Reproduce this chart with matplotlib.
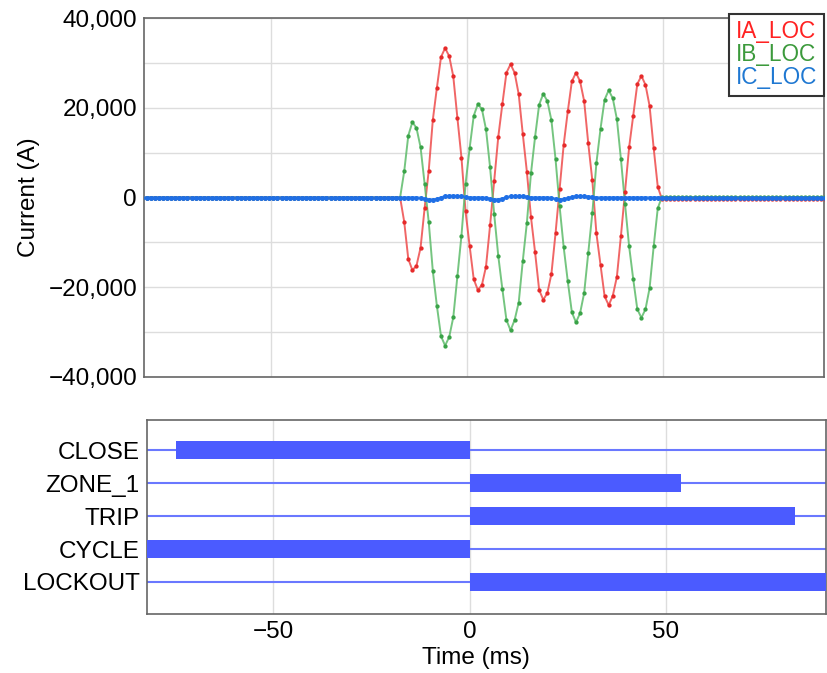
import numpy as np
import matplotlib.pyplot as plt
from matplotlib.ticker import FuncFormatter

plt.rcParams['font.family'] = ['Liberation Sans', 'DejaVu Sans']
plt.rcParams['axes.unicode_minus'] = True

# 960 Hz event record (16 samples per 60 Hz cycle); sample 0 sits 0.4 ms before the trigger
SAMPLE_MS = 1000.0 / 960.0
SAMPLE0_MS = -0.4
FIRST_INDEX = -79
PRE_SAMPLES = 64     # k = -79 .. -16, no current
POST_SAMPLES = 41    # k = 48 .. 88, breaker open

# fault samples, k = -15 .. 47
IA_FAULT = [
    -5400, -13700, -16200, -15200, -11200, -2300,
    6000, 17300, 24500, 31300, 33300, 31500, 27000, 17800, 8900,
    -3100, -10800, -18200, -20600, -19500, -15400, -6200,
    3700, 13500, 20800, 27800, 29700, 27800, 23000, 14100, 5700,
    -4400, -12200, -20600, -22800, -21300, -17000, -8000,
    2000, 11800, 19200, 25900, 27800, 25900, 21500, 12100, 3800,
    -8000, -15000, -22000, -24000, -21900, -17700, -8500,
    1300, 11200, 18200, 25300, 27100, 25100, 20400, 11000, 2400,
]
IB_FAULT = [
    5800, 13800, 16800, 15500, 11200, 3000,
    -5500, -16400, -24200, -30900, -33000, -31100, -26700, -17500, -8500,
    3000, 11000, 18200, 20800, 19700, 15200, 6700,
    -3700, -13000, -20400, -27300, -29600, -27300, -23400, -14100, -5600,
    5400, 13500, 20700, 23100, 21500, 17200, 8600,
    -2000, -11100, -18700, -25600, -27800, -25800, -21300, -12300, -3500,
    7700, 15300, 21800, 23900, 22100, 17500, 8500,
    -1500, -10900, -18200, -24900, -26800, -24900, -20200, -10900, -2400,
]
IC_FAULT = [
    0, 0, 0, 0, -100, -300,
    -450, -500, -350, 0, 250, 350, 350, 300, 250,
    100, 0, 0, 0, 0, -100, -300,
    -450, -450, -250, 50, 250, 300, 300, 250, 150,
    0, 0, 0, 0, 0, -100, -300,
    -450, -400, -200, 100, 250, 300, 250, 200, 100,
    0, 0, 0, 0, 0, 0, 0,
    0, 0, 0, 0, 0, 0, 0, 0, 0,
]
IA_POST = -300
IB_POST = 100

DIGITAL_NAMES = ["CLOSE", "ZONE_1", "TRIP", "CYCLE", "LOCKOUT"]
DIGITAL_ON = [-74.8, 0.0, 0.0, -100.0, 0.0]
DIGITAL_OFF = [0.0, 53.8, 82.8, 0.0, 100.0]

X_MIN, X_MAX = -82.3, 90.9

ia = np.array([0] * PRE_SAMPLES + IA_FAULT + [IA_POST] * POST_SAMPLES, dtype=float)
ib = np.array([0] * PRE_SAMPLES + IB_FAULT + [IB_POST] * POST_SAMPLES, dtype=float)
ic = np.array([0] * PRE_SAMPLES + IC_FAULT + [0] * POST_SAMPLES, dtype=float)
t = SAMPLE0_MS + (np.arange(len(ia)) + FIRST_INDEX) * SAMPLE_MS

fig = plt.figure(figsize=(8.27, 6.73), dpi=100)
ax1 = fig.add_axes([144 / 827, 1 - 377 / 673, 680 / 827, 359 / 673])
ax2 = fig.add_axes([146.5 / 827, 1 - 614 / 673, 680 / 827, 194 / 673])

FS = 17.5
GRID = '#dddddd'
SPINE = '#666666'

# analog currents
traces = [
    (ia, '#ee4b4b', '#e62a2a', 'IA_LOC', '#ff2222'),
    (ib, '#5dbb6a', '#3aa348', 'IB_LOC', '#3c9a3c'),
    (ic, '#2f7fe8', '#1f6fe6', 'IC_LOC', '#1f78d2'),
]
for vals, lc, mc, name, tc in traces:
    blue = name == 'IC_LOC'
    ax1.plot(t, vals, color=lc, lw=1.8 if blue else 1.4, alpha=0.85, zorder=3)
    ax1.plot(t, vals, ls='none', marker='o', ms=3.6 if blue else 3.1,
             mfc=mc, mec=mc, mew=0, zorder=4)

ax1.set_xlim(X_MIN, X_MAX)
ax1.set_ylim(-40000, 40000)
ax1.set_xticks([-50, 0, 50])
ax1.set_xticklabels([])
ax1.set_yticks(np.arange(-40000, 40001, 10000))
ax1.yaxis.set_major_formatter(FuncFormatter(
    lambda v, p: '' if int(v) % 20000 else f"{v:,.0f}".replace('-', '\u2212')))
ax1.grid(True, color=GRID, lw=1.0, zorder=0)
ax1.set_axisbelow(True)
ax1.tick_params(length=0, labelsize=FS, pad=5)
ax1.set_ylabel('Current (A)', fontsize=FS, labelpad=6)
for s in ax1.spines.values():
    s.set_color(SPINE)
    s.set_linewidth(1.2)

handles = [plt.Line2D([], [], color=c) for *_, c in traces]
leg = ax1.legend(handles, [tr[3] for tr in traces], loc='upper right',
                 bbox_to_anchor=(1.0, 1.012), fontsize=16.3, handlelength=0,
                 handletextpad=0, labelspacing=0.0, borderpad=0.3,
                 borderaxespad=0, fancybox=False, framealpha=1)
leg.get_frame().set_edgecolor('#333333')
leg.get_frame().set_linewidth(1.5)
for h in leg.legend_handles:
    h.set_visible(False)
for txt, tr in zip(leg.get_texts(), traces):
    txt.set_color(tr[4])

# digital elements, top row first
ypos = np.arange(len(DIGITAL_NAMES))[::-1]
for y, on, off in zip(ypos, DIGITAL_ON, DIGITAL_OFF):
    ax2.axhline(y, color='#6a78ff', lw=1.5, zorder=2)
    ax2.barh(y, off - on, left=on, height=0.52, color='#4b5bff', zorder=3)

ax2.set_xlim(X_MIN, X_MAX)
ax2.set_ylim(-0.97, 4.91)
ax2.set_yticks(ypos)
ax2.set_yticklabels(DIGITAL_NAMES)
ax2.set_xticks([-50, 0, 50])
ax2.xaxis.set_major_formatter(FuncFormatter(
    lambda v, p: f"{v:.0f}".replace('-', '\u2212')))
ax2.grid(True, axis='x', color=GRID, lw=1.0, zorder=0)
ax2.set_axisbelow(True)
ax2.tick_params(length=0, labelsize=FS, pad=5)
ax2.set_xlabel('Time (ms)', fontsize=FS, labelpad=1)
ax2.xaxis.set_label_coords(0.485, -0.17)
for s in ax2.spines.values():
    s.set_color(SPINE)
    s.set_linewidth(1.2)

fig.savefig('out.png', dpi=100, facecolor='white')
